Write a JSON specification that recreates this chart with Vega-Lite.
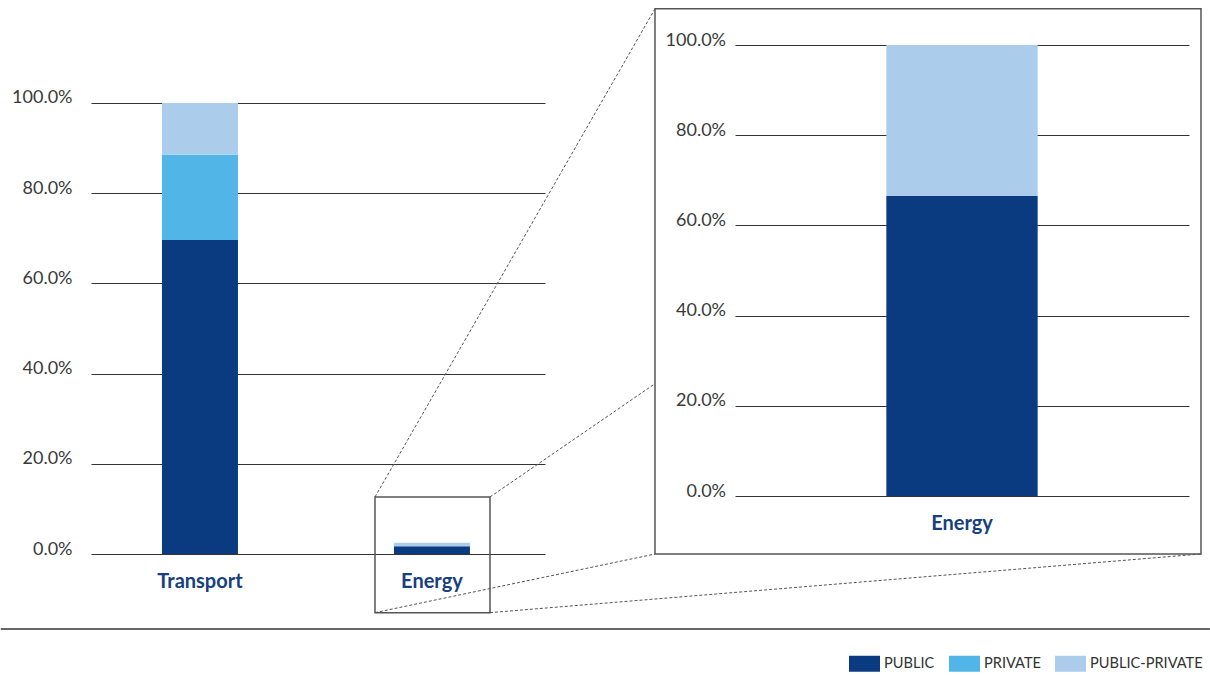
{
  "$schema": "https://vega.github.io/schema/vega-lite/v6.json",
  "padding": {"left": 0, "top": 7, "right": 0, "bottom": 0},
  "background": "white",
  "bounds": "flush",
  "spacing": 190,
  "datasets": {
    "left": [
      {"sector": "Transport", "type": "PUBLIC", "ord": 1, "share": 69.6},
      {"sector": "Transport", "type": "PRIVATE", "ord": 2, "share": 18.9},
      {"sector": "Transport", "type": "PUBLIC-PRIVATE", "ord": 3, "share": 11.5},
      {"sector": "Energy", "type": "PUBLIC", "ord": 1, "share": 1.7},
      {"sector": "Energy", "type": "PUBLIC-PRIVATE", "ord": 3, "share": 0.8}
    ],
    "right": [
      {"sector": "Energy", "type": "PUBLIC", "ord": 1, "share": 66.5},
      {"sector": "Energy", "type": "PUBLIC-PRIVATE", "ord": 3, "share": 33.5}
    ],
    "boxes": [
      {"x": 0.7543, "x2": 1.25, "y": 12.64, "y2": -13.0},
      {"x": 1.9612, "x2": 4.3147, "y": 120.9, "y2": 0}
    ],
    "links": [
      {"x": 0.7543, "y": 12.64, "x2": 1.9612, "y2": 120.9},
      {"x": 1.25, "y": 12.64, "x2": 1.9612, "y2": 37.76},
      {"x": 0.7543, "y": -13.0, "x2": 1.9612, "y2": 0},
      {"x": 1.25, "y": -13.0, "x2": 4.3147, "y2": 0}
    ],
    "baseline": [{"x": -0.8588, "x2": 4.3534, "y": -16.63}]
  },
  "config": {
    "view": {"stroke": null},
    "axis": {"labelFont": "Lato", "labelFontSize": 18, "labelFontWeight": "normal", "labelColor": "#3a3a3a"}
  },
  "hconcat": [
    {
      "width": 454,
      "height": 509,
      "layer": [
        {
          "data": {"name": "left"},
          "mark": {"type": "bar"},
          "encoding": {
            "x": {"field": "sector", "type": "nominal", "sort": ["Transport", "Energy"],
              "scale": {"paddingInner": 0.6724, "paddingOuter": 0.3147, "align": 0.486},
              "axis": {"title": null, "domain": false, "ticks": false, "tickSize": 0, "labelPadding": 27.5, "labelBaseline": "middle", "labelAngle": 0, "labelFont": "Lato", "labelFontWeight": "bold", "labelFontSize": 20, "labelColor": "#17407f", "grid": false}},
            "y": {"field": "share", "type": "quantitative", "stack": "zero",
              "scale": {"domain": [0, 112.86], "nice": false, "zero": false},
              "axis": {"title": null, "values": [0, 20, 40, 60, 80, 100], "labelExpr": "format(datum.value, '.1f') + '%'", "domain": false, "ticks": false, "tickSize": 0, "labelPadding": 19, "labelBaseline": "alphabetic", "grid": true, "gridColor": "#333333", "gridWidth": 1}},
            "color": {"field": "type", "type": "nominal",
              "scale": {"domain": ["PUBLIC", "PRIVATE", "PUBLIC-PRIVATE"], "range": ["#0a3a80", "#52b5e7", "#abcdeb"]},
              "legend": {"orient": "none", "legendX": 758, "legendY": 603, "direction": "horizontal", "title": null, "symbolType": "M-1,-0.516H1V0.516H-1Z", "symbolSize": 961, "symbolStrokeWidth": 0, "symbolOpacity": 1, "labelFont": "Lato", "labelFontSize": 14.6, "labelColor": "#333333", "labelOffset": 4, "columnPadding": 14, "padding": 0}},
            "order": {"field": "ord", "type": "quantitative"}
          }
        },
        {
          "data": {"name": "boxes"},
          "mark": {"type": "rect", "fillOpacity": 0, "stroke": "#555555", "strokeWidth": 1.5},
          "encoding": {
            "x": {"field": "x", "type": "quantitative", "scale": {"domain": [-0.4698, 1.4871], "nice": false, "zero": false}, "axis": null},
            "x2": {"field": "x2"},
            "y": {"field": "y", "type": "quantitative", "scale": {"domain": [0, 112.86], "nice": false, "zero": false}, "title": null},
            "y2": {"field": "y2"}
          }
        },
        {
          "data": {"name": "links"},
          "mark": {"type": "rule", "stroke": "#555555", "strokeWidth": 1, "strokeDash": [3, 2]},
          "encoding": {
            "x": {"field": "x", "type": "quantitative", "scale": {"domain": [-0.4698, 1.4871], "nice": false, "zero": false}, "axis": null},
            "x2": {"field": "x2"},
            "y": {"field": "y", "type": "quantitative", "scale": {"domain": [0, 112.86], "nice": false, "zero": false}, "title": null},
            "y2": {"field": "y2"}
          }
        },
        {
          "data": {"name": "baseline"},
          "mark": {"type": "rule", "stroke": "#333333", "strokeWidth": 1.5},
          "encoding": {
            "x": {"field": "x", "type": "quantitative", "scale": {"domain": [-0.4698, 1.4871], "nice": false, "zero": false}, "axis": null},
            "x2": {"field": "x2"},
            "y": {"field": "y", "type": "quantitative", "scale": {"domain": [0, 112.86], "nice": false, "zero": false}, "title": null}
          }
        }
      ],
      "resolve": {"scale": {"x": "independent"}, "axis": {"x": "independent"}}
    },
    {
      "width": 454,
      "height": 509,
      "data": {"name": "right"},
      "mark": {"type": "bar"},
      "encoding": {
        "x": {"field": "sector", "type": "nominal",
          "scale": {"paddingInner": 0.5, "paddingOuter": 0.5},
          "axis": {"title": null, "offset": -58, "domain": false, "ticks": false, "tickSize": 0, "labelPadding": 27.5, "labelBaseline": "middle", "labelAngle": 0, "labelFont": "Lato", "labelFontWeight": "bold", "labelFontSize": 20, "labelColor": "#17407f", "grid": false}},
        "y": {"field": "share", "type": "quantitative", "stack": "zero",
          "scale": {"domain": [-12.86, 100], "nice": false, "zero": false},
          "axis": {"title": null, "values": [0, 20, 40, 60, 80, 100], "labelExpr": "format(datum.value, '.1f') + '%'", "domain": false, "ticks": false, "tickSize": 0, "labelPadding": 9.5, "labelBaseline": "alphabetic", "grid": true, "gridColor": "#333333", "gridWidth": 1}},
        "color": {"field": "type", "type": "nominal",
          "scale": {"domain": ["PUBLIC", "PRIVATE", "PUBLIC-PRIVATE"], "range": ["#0a3a80", "#52b5e7", "#abcdeb"]},
          "legend": {"orient": "none", "legendX": 758, "legendY": 603, "direction": "horizontal", "title": null, "symbolType": "M-1,-0.516H1V0.516H-1Z", "symbolSize": 961, "symbolStrokeWidth": 0, "symbolOpacity": 1, "labelFont": "Lato", "labelFontSize": 14.6, "labelColor": "#333333", "labelOffset": 4, "columnPadding": 14, "padding": 0}},
        "order": {"field": "ord", "type": "quantitative"}
      }
    }
  ]
}
